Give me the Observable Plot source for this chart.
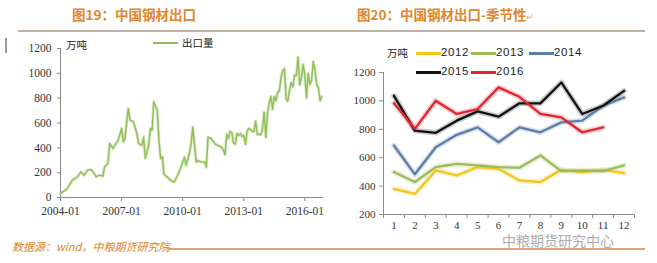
<!DOCTYPE html>
<html><head><meta charset="utf-8">
<script src="https://cdn.jsdelivr.net/npm/d3@7"></script>
<script src="https://cdn.jsdelivr.net/npm/@observablehq/plot@0.6"></script>
<style>
body{margin:0;background:#fff;}
#wrap{position:relative;width:657px;height:263px;overflow:hidden;background:#fff;font-family:"Noto Sans CJK SC",sans-serif;}
#wrap svg text{font-family:"Liberation Serif","Times New Roman",serif;}
.abs{position:absolute;white-space:nowrap;line-height:1;}
.title{font-weight:bold;color:#e0862c;font-size:13.5px;}
.unit{font-size:10.5px;color:#222;}
.leg{font-family:"Liberation Sans",Arial,sans-serif;font-size:11.5px;color:#222;letter-spacing:0.6px;}
.sw{position:absolute;height:3px;}
</style></head>
<body><div id="wrap"></div>
<script>
// ---------- data: left chart (China steel exports, 10k tonnes) ----------
const earlyDates = ["2004-01","2004-05","2004-08","2004-11","2005-01","2005-03","2005-05","2005-07","2005-09","2005-10","2005-12",
"2006-02","2006-03","2006-05","2006-06","2006-08","2006-09","2006-11","2007-01","2007-02","2007-03","2007-05","2007-06","2007-08",
"2007-10","2007-11","2008-01","2008-02","2008-03","2008-05","2008-06","2008-07","2008-08","2008-10","2008-11","2008-12","2009-01",
"2009-02","2009-04","2009-06","2009-08","2009-10","2009-12","2010-02","2010-03","2010-05","2010-06","2010-07","2010-09","2010-10",
"2010-12","2011-02","2011-03","2011-04","2011-06","2011-08","2011-10","2011-12"];
const earlyValues = [32,72,140,166,207,180,220,225,193,166,180,
172,247,274,435,395,420,460,556,448,475,717,623,610,
515,435,420,488,314,420,556,542,770,703,460,314,327,
185,164,137,124,177,244,325,258,352,432,567,285,298,
285,285,244,486,473,432,419,405];

// ---------- data: right chart (seasonality by year) ----------
const months = [1,2,3,4,5,6,7,8,9,10,11,12];
const years = ["2012","2013","2014","2015","2016"];
const v2012 = [380,345,510,475,534,522,440,429,515,499,515,492];
const v2013 = [499,429,534,557,546,534,529,616,506,510,506,546];
const v2014 = [686,483,674,761,814,709,814,779,849,861,966,1025];
const v2015 = [1036,791,775,861,926,889,983,983,1130,908,966,1071];
const v2016 = [983,803,1001,908,943,1095,1029,908,884,779,814];
const yearColors = ["#f2c41c","#9bbb59","#5b7fa8","#111111","#e2262b"];

// tick labels
const leftXTicks = ["2004-01","2007-01","2010-01","2013-01","2016-01"];
const leftYTicks = [0,200,400,600,800,1000,1200];
const rightYTicks = [200,400,600,800,1000,1200];

// ---------- build tables ----------
const parse = d3.utcParse("%Y-%m");
const seasonal = [v2012,v2013,v2014,v2015,v2016];
const leftData = earlyDates.map((d,i)=>({date:parse(d),value:earlyValues[i]}));
seasonal.forEach((arr,k)=>arr.forEach((v,i)=>leftData.push({date:new Date(Date.UTC(+years[k], i, 1)), value:v})));
const rightData = [];
seasonal.forEach((arr,k)=>arr.forEach((v,i)=>rightData.push({year:years[k], month:months[i], value:v})));

const wrap = document.getElementById("wrap");
function add(html){wrap.insertAdjacentHTML("beforeend",html);}
const plain = d => String(d);

// ---------- left plot ----------
const left = Plot.plot({
  width:330, height:200, marginTop:18, marginBottom:33, marginLeft:60, marginRight:7,
  style:{fontFamily:"'Liberation Serif',serif", fontSize:"11.5px", color:"#333", background:"transparent", overflow:"visible"},
  x:{type:"utc", domain:[parse("2004-01"), parse("2016-12")], label:null},
  y:{domain:[0,1200], label:null},
  marks:[
    Plot.axisX({ticks:leftXTicks.map(parse), tickFormat:d3.utcFormat("%Y-%m"), tickSize:4, tickPadding:5, stroke:"#8a8a8a", fill:"#333", label:null}),
    Plot.axisY({ticks:leftYTicks, tickFormat:plain, tickSize:3, tickPadding:6, stroke:"#8a8a8a", fill:"#333", label:null}),
    Plot.ruleX([parse("2004-01")], {stroke:"#8a8a8a"}),
    Plot.ruleY([0], {stroke:"#8a8a8a"}),
    Plot.line(leftData, {x:"date", y:"value", stroke:"#bcd99a", strokeWidth:3.2, strokeOpacity:0.5}),
    Plot.line(leftData, {x:"date", y:"value", stroke:"#92c05a", strokeWidth:1.5})
  ]
});
left.style.position="absolute"; left.style.left="0px"; left.style.top="30px";
wrap.appendChild(left);

// ---------- right plot ----------
const right = Plot.plot({
  width:327, height:210, marginTop:42, marginBottom:26, marginLeft:53, marginRight:23,
  style:{fontFamily:"'Liberation Serif',serif", fontSize:"11px", color:"#333", background:"transparent", overflow:"visible"},
  x:{domain:[0.5,12.5], label:null},
  y:{domain:[200,1200], label:null},
  color:{domain:years, range:yearColors},
  marks:[
    Plot.axisY({ticks:rightYTicks, tickFormat:plain, tickSize:4, tickPadding:4, stroke:"#8a8a8a", fill:"#333", label:null}),
    Plot.axisX({ticks:months, tickFormat:plain, tickSize:0, tickPadding:7, fill:"#333", label:null}),
    Plot.axisX({ticks:d3.range(0.5,13,1), tickFormat:()=> "", tickSize:4, stroke:"#8a8a8a", label:null}),
    Plot.ruleX([0.5], {stroke:"#8a8a8a"}),
    Plot.ruleY([200], {stroke:"#8a8a8a"}),
    Plot.line(rightData, {x:"month", y:"value", z:"year", stroke:"year", strokeWidth:5.5, strokeOpacity:0.22}),
    Plot.line(rightData, {x:"month", y:"value", z:"year", stroke:"year", strokeWidth:2.3})
  ]
});
right.style.position="absolute"; right.style.left="330px"; right.style.top="30px";
wrap.appendChild(right);

// ---------- titles, separators, notes ----------
add(`<div class="abs title" style="left:72px;top:8px;">图19：中国钢材出口</div>`);
add(`<div class="abs title" style="left:357px;top:8px;">图20：中国钢材出口-季节性<span style="font-size:9px;color:#e9a060;font-weight:normal;">↵</span></div>`);
add(`<div class="abs" style="left:18px;top:30px;width:627px;height:2px;background:#bdb2a4;"></div>`);
add(`<div class="abs" style="left:5px;top:38px;width:2px;height:15px;background:#9a9a9a;"></div>`);
add(`<div class="abs unit" style="left:66px;top:40px;">万吨</div>`);
add(`<div class="sw" style="left:153px;top:42px;width:25px;height:2px;background:#92c05a;"></div>`);
add(`<div class="abs unit" style="left:182px;top:38px;">出口量</div>`);
add(`<div class="abs unit" style="left:387px;top:48px;">万吨</div>`);
// right legend
const legPos = [[416,53],[471,53],[529,53],[416,72],[471,72]];
years.forEach((y,k)=>{
  const [lx,ly]=legPos[k];
  add(`<div class="sw" style="left:${lx}px;top:${ly-1.5}px;width:25px;background:${yearColors[k]};"></div>`);
  add(`<div class="abs leg" style="left:${lx+25}px;top:${ly-6}px;">${y}</div>`);
});
add(`<div class="abs" style="left:502px;top:233px;font-size:14px;color:#ababab;">中粮期货研究中心</div>`);
add(`<div class="abs" style="left:12px;top:241px;font-size:11px;font-style:italic;color:#d9822b;">数据源：wind，中粮期货研究院</div>`);
add(`<div class="abs" style="left:167px;top:248px;width:478px;height:1.5px;background:#e8a27a;"></div>`);
</script>
</body></html>
